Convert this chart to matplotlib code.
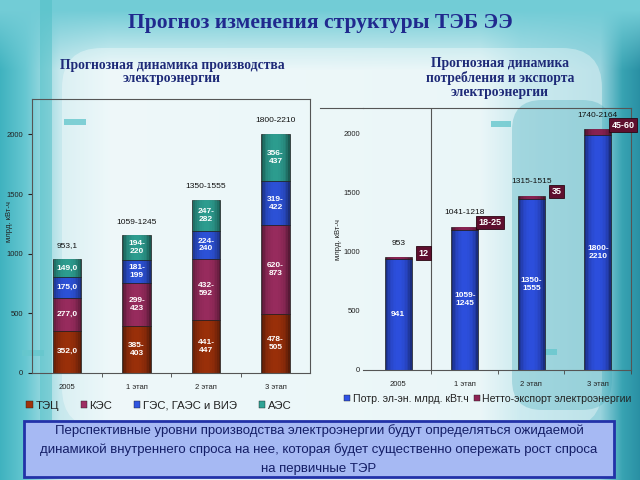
import numpy as np
import matplotlib
matplotlib.use("Agg")
import matplotlib.pyplot as plt
from matplotlib.patches import Patch, FancyBboxPatch, Rectangle
from matplotlib.lines import Line2D
import matplotlib.colors as mcolors

plt.rcParams['font.family'] = ['Liberation Sans', 'DejaVu Sans']

# ---- data ----
stages = ['2005', '1 этап', '2 этап', '3 этап']

# left chart: production structure (bar heights)
tec = [352, 394, 444, 491]
kes = [277, 361, 512, 746]
ges = [175, 190, 232, 370]
aes = [149, 207, 264, 397]
tec_lbl = ['352,0', '385-\n403', '441-\n447', '478-\n505']
kes_lbl = ['277,0', '299-\n423', '432-\n592', '620-\n873']
ges_lbl = ['175,0', '181-\n199', '224-\n240', '319-\n422']
aes_lbl = ['149,0', '194-\n220', '247-\n282', '356-\n437']
prod_total_lbl = ['953,1', '1059-1245', '1350-1555', '1800-2210']
prod_series = ['ТЭЦ', 'КЭС', 'ГЭС, ГАЭС и ВИЭ', 'АЭС']

# right chart: consumption and export
consumption = [941, 1186, 1442, 1990]
export = [12, 25, 31, 45]
cons_lbl = ['941', '1059-\n1245', '1350-\n1555', '1800-\n2210']
export_lbl = ['12', '18-25', '35', '45-60']
cons_total_lbl = ['953', '1041-1218', '1315-1515', '1740-2164']
cons_series = ['Потр. эл-эн. млрд. кВт.ч', 'Нетто-экспорт электроэнергии']

c_tec, c_kes, c_ges, c_aes = '#A0320C', '#9E2E62', '#2F55E0', '#2FA395'
c_blue, c_cap = '#2F52E6', '#8E2454'


def cyl_bar(ax, x, h, bottom, color, width):
    # bar with darker edges and lighter middle, like a cylinder
    base = np.array(mcolors.to_rgb(color)) * 0.55
    ax.bar(x, h, width, bottom=bottom, color=base, edgecolor='#202020', linewidth=0.5, zorder=2)
    for k in range(1, 8):
        ax.bar(x, h, width * (1 - k / 8.5), bottom=bottom, color=color, alpha=0.3,
               linewidth=0, zorder=2)


fig = plt.figure(figsize=(6.4, 4.8), dpi=100)

# ---- background ----
bg = fig.add_axes([0, 0, 1, 1])
bg.set_xlim(0, 640)
bg.set_ylim(480, 0)
bg.axis('off')
cols = np.array([0, 25, 60, 110, 480, 520, 600, 622, 640])
cr = np.array([[0.25, 0.70, 0.75], [0.40, 0.78, 0.82], [0.78, 0.91, 0.93], [0.90, 0.96, 0.97],
               [0.88, 0.95, 0.96], [0.70, 0.88, 0.91], [0.60, 0.83, 0.87], [0.22, 0.64, 0.70],
               [0.16, 0.56, 0.64]])
xs = np.arange(640)
row = np.stack([np.interp(xs, cols, cr[:, i]) for i in range(3)], axis=1)
img = np.repeat(row[None, :, :], 480, axis=0)
top = np.clip((np.arange(480) - 10) / 60.0, 0, 1)[:, None, None]
teal = np.array([0.45, 0.80, 0.84])[None, None, :]
img = img * top + teal * (1 - top)
bg.imshow(img, extent=[0, 640, 480, 0], aspect='auto', zorder=0)
bg.add_patch(FancyBboxPatch((62, 48), 540, 380, boxstyle='round,pad=0,rounding_size=40',
                            fc='white', ec='none', alpha=0.35, zorder=1))
bg.add_patch(FancyBboxPatch((512, 100), 100, 310, boxstyle='round,pad=0,rounding_size=30',
                            fc='#3FA9B8', ec='none', alpha=0.3, zorder=1))
bg.add_patch(Rectangle((40, 0), 12, 420, fc='#4EBFC6', ec='none', alpha=0.5, zorder=1))
bg.add_patch(Rectangle((64, 119), 22, 6, fc='#66C7CD', ec='none', alpha=0.8, zorder=1))
bg.add_patch(Rectangle((22, 350), 22, 6, fc='#66C7CD', ec='none', alpha=0.8, zorder=1))
bg.add_patch(Rectangle((491, 121), 20, 6, fc='#66C7CD', ec='none', alpha=0.8, zorder=1))
bg.add_patch(Rectangle((545, 349), 12, 6, fc='#66C7CD', ec='none', alpha=0.8, zorder=1))

# titles
bg.text(320, 23, 'Прогноз изменения структуры ТЭБ ЭЭ', ha='center', va='center',
        fontsize=15.5, fontweight='bold', color='#20298E', family='Liberation Serif', zorder=3)
bg.text(172, 72, 'Прогнозная динамика производства\nэлектроэнергии', ha='center', va='center',
        fontsize=9.8, fontweight='bold', color='#1E2A78', family='Liberation Serif',
        linespacing=1.05, zorder=3)
bg.text(500, 78, 'Прогнозная динамика\nпотребления и экспорта\nэлектроэнергии', ha='center',
        va='center', fontsize=9.8, fontweight='bold', color='#1E2A78', family='Liberation Serif',
        linespacing=1.05, zorder=3)

# ---- left chart ----
ax1 = fig.add_axes([32.3 / 640, 1 - 372.7 / 480, 278 / 640, 273.4 / 480])
ax1.patch.set_alpha(0)
x = np.arange(len(stages))
w = 0.41
bottoms = np.zeros(len(stages))
for vals, lbls, col in [(tec, tec_lbl, c_tec), (kes, kes_lbl, c_kes),
                        (ges, ges_lbl, c_ges), (aes, aes_lbl, c_aes)]:
    for i in range(len(stages)):
        cyl_bar(ax1, x[i], vals[i], bottoms[i], col, w)
        ax1.text(x[i], bottoms[i] + vals[i] / 2, lbls[i], ha='center', va='center', color='white',
                 fontsize=6, fontweight='bold', linespacing=1.15, zorder=4)
    bottoms = bottoms + np.array(vals)
for i in range(len(stages)):
    ax1.annotate(prod_total_lbl[i], (x[i], bottoms[i]), xytext=(0, 9.5), textcoords='offset points',
                 ha='center', va='center', fontsize=6, color='#111111')
ax1.set_xlim(-0.5, 3.5)
ax1.set_ylim(0, 2295)
ax1.set_yticks([0, 500, 1000, 1500, 2000])
ax1.set_xticks(x)
ax1.set_xticklabels(stages)
ax1.set_xticks([0.5, 1.5, 2.5], minor=True)
ax1.tick_params(axis='x', which='major', length=0, labelsize=5.5, pad=8, colors='#222222')
ax1.tick_params(axis='x', which='minor', length=3, direction='out', color='#444444')
ax1.tick_params(axis='y', labelsize=5.5, length=3, colors='#222222')
for s in ax1.spines.values():
    s.set_color('#555555')
    s.set_linewidth(0.8)
bg.text(10, 222, 'млрд. кВт-ч', rotation=90, ha='center', va='center', fontsize=5.5,
        color='#222222', zorder=3)

# ---- right chart ----
ax2 = fig.add_axes([363 / 640, 1 - 370 / 480, 268 / 640, 262 / 480])
ax2.patch.set_alpha(0)
w2 = 0.4
for i in range(len(stages)):
    cyl_bar(ax2, x[i], consumption[i], 0, c_blue, w2)
    cyl_bar(ax2, x[i], export[i], consumption[i], c_cap, w2)
    ax2.text(x[i], consumption[i] / 2, cons_lbl[i], ha='center', va='center', color='white',
             fontsize=6, fontweight='bold', linespacing=1.15, zorder=4)
    tot = consumption[i] + export[i]
    ax2.annotate(cons_total_lbl[i], (x[i], tot), xytext=(0, 10), textcoords='offset points',
                 ha='center', va='center', fontsize=6, color='#111111')
    ax2.annotate(export_lbl[i], (x[i] + 0.38, tot), xytext=(0, 3), textcoords='offset points',
                 ha='center', va='center', fontsize=6.5, color='white', fontweight='bold', zorder=5,
                 bbox=dict(boxstyle='square,pad=0.25', fc='#5E0F2E', ec='#2a0612', lw=0.6))
ax2.axvline(0.5, color='#555555', lw=0.8, zorder=1)
ax2.set_xlim(-0.53, 3.5)
ax2.set_ylim(0, 2214)
ax2.set_yticks([0, 500, 1000, 1500, 2000])
ax2.set_xticks(x)
ax2.set_xticklabels(stages)
ax2.set_xticks([0.5, 1.5, 2.5, 3.5], minor=True)
ax2.tick_params(axis='x', which='major', length=0, labelsize=5.5, pad=8, colors='#222222')
ax2.tick_params(axis='x', which='minor', length=3, direction='out', color='#444444')
ax2.tick_params(axis='y', labelsize=5.5, length=0, pad=2, colors='#222222')
ax2.spines['left'].set_visible(False)
for s in ['top', 'right', 'bottom']:
    ax2.spines[s].set_color('#555555')
    ax2.spines[s].set_linewidth(0.8)
bg.add_line(Line2D([320, 363], [108, 108], color='#555555', lw=0.8, zorder=3))
bg.text(338, 240, 'млрд. кВт-ч', rotation=90, ha='center', va='center', fontsize=5.5,
        color='#222222', zorder=3)

# ---- legends ----
h1 = [Patch(fc=c, ec='#202020', lw=0.3) for c in [c_tec, c_kes, c_ges, c_aes]]
fig.legend(h1, prod_series, loc='center', bbox_to_anchor=(159 / 640, 1 - 405.7 / 480), ncol=4,
           frameon=False, fontsize=8.2, handlelength=0.55, handleheight=0.55, handletextpad=0.25,
           columnspacing=1.9, labelcolor='#222222')
h2 = [Patch(fc=c, ec='#202020', lw=0.3) for c in [c_blue, c_cap]]
fig.legend(h2, cons_series, loc='center', bbox_to_anchor=(488 / 640, 1 - 399 / 480), ncol=2,
           frameon=False, fontsize=7.6, handlelength=0.55, handleheight=0.55, handletextpad=0.25,
           columnspacing=0.5, labelcolor='#222222')

# ---- bottom note ----
bg.add_patch(Rectangle((24, 421), 590, 56, fc='#A6B9F3', ec='#2232A8', lw=2, zorder=3))
note = ['Перспективные уровни производства электроэнергии будут определяться ожидаемой',
        'динамикой внутреннего спроса на нее, которая будет существенно опережать рост спроса',
        'на первичные ТЭР']
for j, line in enumerate(note):
    bg.text(319, 431 + j * 19, line, ha='center', va='center', fontsize=9.5, color='#141E66',
            zorder=4)

fig.savefig('out.png', dpi=100)
